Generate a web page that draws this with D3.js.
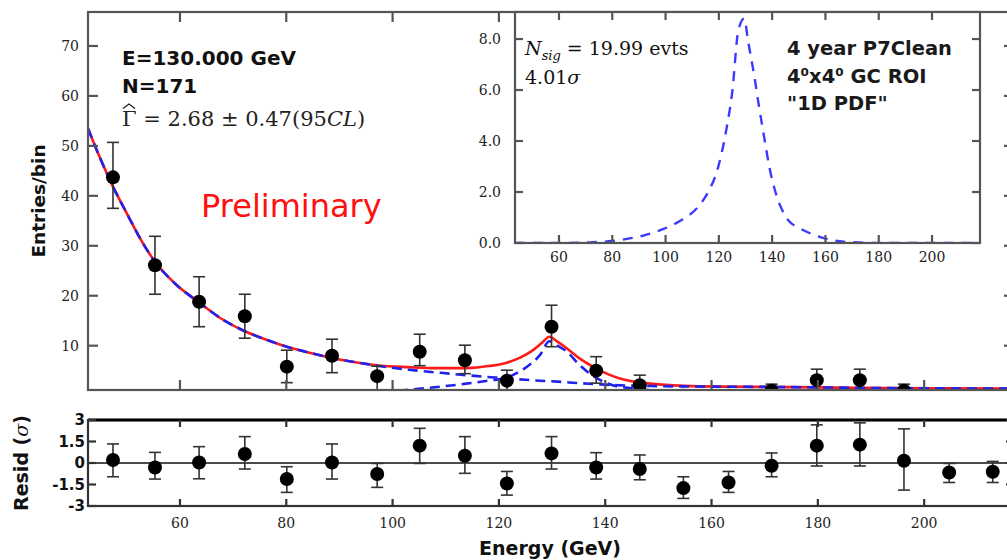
<!DOCTYPE html>
<html><head><meta charset="utf-8">
<script src="https://cdn.jsdelivr.net/npm/d3@7"></script>
<style>body{margin:0;background:#fff}svg{display:block}</style>
</head><body><svg id="c" width="1007" height="560"></svg>
<script>
// ---------- data ----------
const energies  = [47.4, 55.3, 63.6, 72.2, 80.1, 88.6, 97.1, 105.1, 113.6, 121.5, 129.9, 138.3, 146.5, 154.7, 163.2, 171.3, 179.8, 187.9, 196.2, 204.7, 212.9];
const counts    = [43.7, 26.1, 18.8, 15.9, 5.8, 8.0, 3.9, 8.8, 7.1, 3.0, 13.8, 5.0, 2.1, 0, 0, 1.0, 3.1, 3.1, 1.0, 0, 0];
const countLow  = [37.5, 20.3, 13.8, 11.5, 2.6, 4.6, 1.0, 6.0, 4.4, 1.0, 9.8, 2.5, 0.5, 0, 0, 0, 1.0, 1.0, 0, 0, 0];
const countHigh = [50.7, 31.9, 23.8, 20.3, 9.1, 11.3, 5.9, 12.3, 10.1, 5.1, 18.1, 7.8, 4.1, 0, 0, 2.3, 5.3, 5.3, 2.3, 0, 0];

const resid     = [0.21, -0.31, 0.04, 0.63, -1.12, 0.04, -0.77, 1.21, 0.51, -1.43, 0.67, -0.31, -0.42, -1.75, -1.36, -0.19, 1.21, 1.28, 0.16, -0.66, -0.61];
const residLow  = [-0.96, -1.12, -1.10, -0.42, -2.05, -1.12, -1.70, -0.03, -0.72, -2.24, -0.42, -1.12, -1.17, -2.47, -2.05, -0.96, -0.21, -0.21, -1.89, -1.36, -1.36];
const residHigh = [1.33, 0.74, 1.14, 1.84, -0.26, 1.33, -0.03, 2.42, 1.84, -0.59, 1.84, 0.72, 0.56, -0.96, -0.59, 0.70, 2.66, 2.80, 2.38, -0.03, 0.11];

// background model (blue dashed)
const bgE = [42.7, 45, 47.1, 50, 52.5, 55.3, 59, 63.8, 67.5, 71.8, 76, 80.1, 84, 88.8, 93, 97, 103, 110.8, 116, 121, 126, 131, 135.2, 140, 145, 150, 160, 170, 180, 194, 205, 217];
const bgV = [53.5, 47.5, 42.5, 36.5, 31.5, 26.8, 22.5, 18.5, 15.6, 13.1, 11.3, 9.8, 8.7, 7.5, 6.7, 6.0, 5.2, 4.4, 3.9, 3.5, 3.1, 2.8, 2.5, 2.2, 2.0, 1.9, 1.8, 1.75, 1.65, 1.5, 1.45, 1.4];
// total model (red)
const totE = [42.7, 45, 47.1, 50, 52.5, 55.3, 59, 63.8, 67.5, 71.8, 76, 80.1, 84, 88.8, 93, 97, 103, 108, 113, 117, 121.5, 124, 126, 128, 129.5, 131, 133, 135.5, 138.2, 140.5, 142.6, 145, 147.6, 152, 157.6, 170, 180, 194, 205, 217];
const totV = [53.5, 47.5, 42.5, 36.5, 31.5, 26.8, 22.5, 18.5, 15.6, 13.1, 11.3, 9.8, 8.7, 7.5, 6.7, 6.1, 5.7, 5.5, 5.5, 5.8, 6.6, 7.6, 8.8, 10.5, 11.8, 10.8, 9.3, 7.2, 5.5, 4.3, 3.5, 2.9, 2.5, 2.1, 1.85, 1.75, 1.65, 1.5, 1.45, 1.4];
// signal model (blue dashed, main panel)
const sigE = [95, 100, 104.4, 109, 113.8, 118, 121.5, 123.5, 125.3, 127.7, 129.5, 131, 132.8, 135.2, 138.4, 141.4, 144.6, 150, 155];
const sigV = [0.6, 0.9, 1.3, 1.8, 2.4, 3.0, 3.6, 4.6, 5.8, 8.1, 10.9, 10.0, 8.8, 6.1, 3.5, 2.1, 1.5, 1.0, 0.8];
// inset signal PDF
const insE = [43.5, 60, 70, 80, 85, 92, 99, 106, 112, 116, 119, 121, 123, 125, 127.3, 129.5, 131, 133.3, 135, 137.2, 139, 141.1, 143.5, 146.3, 150, 155.4, 163, 170, 180, 218];
const insV = [0, 0, 0.02, 0.08, 0.15, 0.3, 0.54, 0.9, 1.39, 2.0, 2.72, 3.5, 4.56, 5.9, 8.33, 8.8, 7.9, 6.55, 5.4, 4.03, 2.95, 2.05, 1.35, 0.86, 0.6, 0.33, 0.1, 0.03, 0, 0];

const xTicks = [60, 80, 100, 120, 140, 160, 180, 200];
const yTicksMain = [10, 20, 30, 40, 50, 60, 70];
const yTicksInset = [0, 2, 4, 6, 8];
const yTicksResid = [-3, -1.5, 0, 1.5, 3];

// ---------- layout ----------
const svg = d3.select("#c");
const M = {l: 88, r: 1014, t: 12, b: 390};
const R = {t: 420, b: 506};
const I = {l: 515, r: 980, t: 12, b: 243};

const x = d3.scaleLinear().domain([42.7, 216.9]).range([M.l, M.r]);
const y = d3.scaleLinear().domain([1.13, 76.8]).range([M.b, M.t]);
const yr = d3.scaleLinear().domain([-3, 3]).range([R.b, R.t]);
const xi = d3.scaleLinear().domain([43.5, 218]).range([I.l, I.r]);
const yi = d3.scaleLinear().domain([0, 9.06]).range([I.b, I.t]);

const defs = svg.append("defs");
defs.append("clipPath").attr("id", "cm").append("rect").attr("x", M.l).attr("y", M.t).attr("width", M.r - M.l).attr("height", M.b - M.t);
defs.append("clipPath").attr("id", "ci").append("rect").attr("x", I.l).attr("y", I.t).attr("width", I.r - I.l).attr("height", I.b - I.t);
defs.append("clipPath").attr("id", "cr").append("rect").attr("x", M.l).attr("y", R.t).attr("width", M.r - M.l).attr("height", R.b - R.t);

const frameCol = "#555";
const serif = "'DejaVu Serif', serif";
const sans = "'DejaVu Sans', sans-serif";

// ---------- main panel ----------
const gm = svg.append("g").attr("clip-path", "url(#cm)");
const lineM = (E, V) => d3.line().x((d, i) => x(E[i])).y((d, i) => y(V[i])).curve(d3.curveMonotoneX)(E);
gm.append("path").attr("d", lineM(totE, totV)).attr("fill", "none").attr("stroke", "#ff1a1a").attr("stroke-width", 2.6);
gm.append("path").attr("d", lineM(bgE, bgV)).attr("fill", "none").attr("stroke", "#2222ee").attr("stroke-width", 2.6).attr("stroke-dasharray", "10,6");
gm.append("path").attr("d", lineM(sigE, sigV)).attr("fill", "none").attr("stroke", "#2222ee").attr("stroke-width", 2.6).attr("stroke-dasharray", "10,6");

const pts = energies.map((e, i) => ({e, v: counts[i], lo: countLow[i], hi: countHigh[i]}));
const eb = gm.append("g").attr("stroke", "#333").attr("stroke-width", 1.6);
pts.filter(d => d.hi > d.lo).forEach(d => {
  eb.append("line").attr("x1", x(d.e)).attr("x2", x(d.e)).attr("y1", y(d.lo)).attr("y2", y(d.hi));
  eb.append("line").attr("x1", x(d.e) - 6).attr("x2", x(d.e) + 6).attr("y1", y(d.hi)).attr("y2", y(d.hi));
  eb.append("line").attr("x1", x(d.e) - 6).attr("x2", x(d.e) + 6).attr("y1", y(d.lo)).attr("y2", y(d.lo));
});
gm.append("g").selectAll("circle").data(pts).join("circle")
  .attr("cx", d => x(d.e)).attr("cy", d => y(d.v)).attr("r", 7).attr("fill", "#000");

// main frame + ticks
const fr = svg.append("g").attr("stroke", frameCol).attr("stroke-width", 2.2);
fr.append("rect").attr("x", M.l).attr("y", M.t).attr("width", M.r - M.l).attr("height", M.b - M.t).attr("fill", "none");
yTicksMain.forEach(v => {
  fr.append("line").attr("x1", M.l).attr("x2", M.l + 10).attr("y1", y(v)).attr("y2", y(v));
  fr.append("line").attr("x1", M.r).attr("x2", M.r - 10).attr("y1", y(v)).attr("y2", y(v));
});
xTicks.forEach(v => {
  fr.append("line").attr("x1", x(v)).attr("x2", x(v)).attr("y1", M.t).attr("y2", M.t + 10);
  fr.append("line").attr("x1", x(v)).attr("x2", x(v)).attr("y1", M.b).attr("y2", M.b - 10);
});
svg.append("g").selectAll("text").data(yTicksMain).join("text")
  .attr("x", 79).attr("y", d => y(d)).attr("dy", "0.36em").attr("text-anchor", "end")
  .attr("font-family", serif).attr("font-size", 14).attr("fill", "#222").text(d => d);

svg.append("text").attr("transform", "translate(45,201) rotate(-90)").attr("text-anchor", "middle")
  .attr("font-family", sans).attr("font-weight", "bold").attr("font-size", 18.5).attr("fill", "#111").text("Entries/bin");

// annotations main
const tx = (xx, yy, s, o = {}) => svg.append("text").attr("x", xx).attr("y", yy)
  .attr("font-family", o.f || sans).attr("font-size", o.s || 20).attr("font-weight", o.w || "normal")
  .attr("fill", o.c || "#111").text(s);
tx(122, 65, "E=130.000 GeV", {w: "bold", s: 20});
tx(122, 93, "N=171", {w: "bold", s: 20});
const g1 = svg.append("text").attr("x", 122).attr("y", 126).attr("font-family", serif).attr("font-size", 21).attr("fill", "#222");
g1.append("tspan").text("\u0393 = 2.68 \u00b1 0.47(95");
g1.append("tspan").attr("font-style", "italic").text("CL");
g1.append("tspan").text(")");
// hat accent over Gamma
svg.append("path").attr("d", "M123,108.5 L129,104 L135,108.5").attr("fill", "none").attr("stroke", "#222").attr("stroke-width", 1.3);
tx(201, 217, "Preliminary", {s: 32, c: "#ff1010"});

// ---------- inset ----------
svg.append("rect").attr("x", I.l).attr("y", I.t).attr("width", I.r - I.l).attr("height", I.b - I.t).attr("fill", "#fff");
const gi = svg.append("g").attr("clip-path", "url(#ci)");
gi.append("path").attr("d", d3.line().x((d, i) => xi(insE[i])).y((d, i) => yi(insV[i])).curve(d3.curveMonotoneX)(insE))
  .attr("fill", "none").attr("stroke", "#3b3bff").attr("stroke-width", 2.4).attr("stroke-dasharray", "10,8");
const fi = svg.append("g").attr("stroke", frameCol).attr("stroke-width", 2.2);
fi.append("rect").attr("x", I.l).attr("y", I.t).attr("width", I.r - I.l).attr("height", I.b - I.t).attr("fill", "none");
yTicksInset.forEach(v => {
  fi.append("line").attr("x1", I.l).attr("x2", I.l + 8).attr("y1", yi(v)).attr("y2", yi(v));
  fi.append("line").attr("x1", I.r).attr("x2", I.r - 8).attr("y1", yi(v)).attr("y2", yi(v));
});
xTicks.forEach(v => {
  fi.append("line").attr("x1", xi(v)).attr("x2", xi(v)).attr("y1", I.t).attr("y2", I.t + 8);
  fi.append("line").attr("x1", xi(v)).attr("x2", xi(v)).attr("y1", I.b).attr("y2", I.b - 8);
});
svg.append("g").selectAll("text").data(yTicksInset).join("text")
  .attr("x", 501).attr("y", d => yi(d)).attr("dy", "0.36em").attr("text-anchor", "end")
  .attr("font-family", serif).attr("font-size", 14).attr("fill", "#222").text(d => d.toFixed(1));
svg.append("g").selectAll("text").data(xTicks).join("text")
  .attr("x", d => xi(d)).attr("y", 262).attr("text-anchor", "middle")
  .attr("font-family", serif).attr("font-size", 14).attr("fill", "#222").text(d => d);

const n1 = svg.append("text").attr("x", 525).attr("y", 55).attr("font-family", serif).attr("font-size", 19).attr("fill", "#111");
n1.append("tspan").attr("font-style", "italic").text("N");
n1.append("tspan").attr("font-style", "italic").attr("font-size", 13).attr("dy", 5).text("sig");
n1.append("tspan").attr("dy", -5).text(" = 19.99 evts");
const n2 = svg.append("text").attr("x", 525).attr("y", 84).attr("font-family", serif).attr("font-size", 19).attr("fill", "#111");
n2.append("tspan").text("4.01");
n2.append("tspan").attr("font-style", "italic").text("\u03c3");
tx(787, 55, "4 year P7Clean", {w: "bold", s: 19.5, c: "#1a1a1a"});
tx(787, 83, "4\u2070x4\u2070 GC ROI", {w: "bold", s: 19.5, c: "#1a1a1a"});
tx(787, 110, "\"1D PDF\"", {w: "bold", s: 19.5, c: "#1a1a1a"});

// ---------- residual panel ----------
const gr = svg.append("g");
gr.append("line").attr("x1", M.l).attr("x2", M.r).attr("y1", yr(0)).attr("y2", yr(0)).attr("stroke", "#111").attr("stroke-width", 1.6);
const rp = energies.map((e, i) => ({e, v: resid[i], lo: residLow[i], hi: residHigh[i]}));
const reb = gr.append("g").attr("clip-path", "url(#cr)").attr("stroke", "#333").attr("stroke-width", 1.6);
rp.forEach(d => {
  reb.append("line").attr("x1", x(d.e)).attr("x2", x(d.e)).attr("y1", yr(d.lo)).attr("y2", yr(d.hi));
  reb.append("line").attr("x1", x(d.e) - 6).attr("x2", x(d.e) + 6).attr("y1", yr(d.hi)).attr("y2", yr(d.hi));
  reb.append("line").attr("x1", x(d.e) - 6).attr("x2", x(d.e) + 6).attr("y1", yr(d.lo)).attr("y2", yr(d.lo));
});
gr.append("g").selectAll("circle").data(rp).join("circle")
  .attr("cx", d => x(d.e)).attr("cy", d => yr(d.v)).attr("r", 7).attr("fill", "#000");
const frr = svg.append("g").attr("stroke", "#333").attr("stroke-width", 2.2);
frr.append("rect").attr("x", M.l).attr("y", R.t).attr("width", M.r - M.l).attr("height", R.b - R.t).attr("fill", "none");
frr.append("line").attr("x1", M.l).attr("x2", M.r).attr("y1", R.t).attr("y2", R.t).attr("stroke", "#000").attr("stroke-width", 3.2);
yTicksResid.forEach(v => {
  frr.append("line").attr("x1", M.l).attr("x2", M.l + 8).attr("y1", yr(v)).attr("y2", yr(v));
  frr.append("line").attr("x1", M.r).attr("x2", M.r - 8).attr("y1", yr(v)).attr("y2", yr(v));
});
xTicks.forEach(v => {
  frr.append("line").attr("x1", x(v)).attr("x2", x(v)).attr("y1", R.t).attr("y2", R.t + 7);
  frr.append("line").attr("x1", x(v)).attr("x2", x(v)).attr("y1", R.b).attr("y2", R.b - 7);
});
svg.append("g").selectAll("text").data(yTicksResid).join("text")
  .attr("x", 85).attr("y", d => yr(d)).attr("dy", "0.36em").attr("text-anchor", "end")
  .attr("font-family", sans).attr("font-weight", "bold").attr("font-size", 15).attr("fill", "#111").text(d => d);
svg.append("g").selectAll("text").data(xTicks).join("text")
  .attr("x", d => x(d)).attr("y", 528).attr("text-anchor", "middle")
  .attr("font-family", serif).attr("font-size", 14).attr("fill", "#222").text(d => d);
svg.append("text").attr("x", 550).attr("y", 555).attr("text-anchor", "middle")
  .attr("font-family", sans).attr("font-weight", "bold").attr("font-size", 19).attr("fill", "#111").text("Energy (GeV)");
const rl = svg.append("text").attr("transform", "translate(28,463) rotate(-90)").attr("text-anchor", "middle")
  .attr("font-family", sans).attr("font-weight", "bold").attr("font-size", 19).attr("fill", "#111");
rl.append("tspan").text("Resid (");
rl.append("tspan").attr("font-family", serif).attr("font-style", "italic").attr("font-weight", "normal").text("\u03c3");
rl.append("tspan").text(")");
</script></body></html>
